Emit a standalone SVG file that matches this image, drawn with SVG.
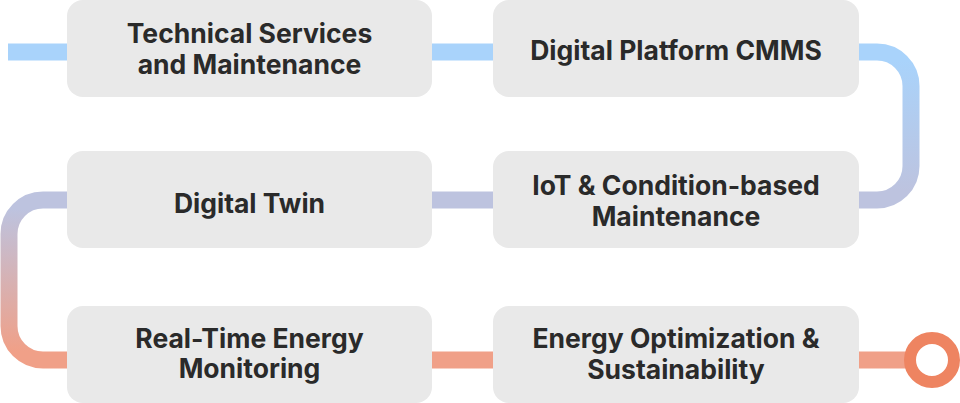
<svg xmlns="http://www.w3.org/2000/svg" width="960" height="403" viewBox="0 0 960 403">
  <style>
    .box { fill: #e9e9e9; }
    .lbl { font-family: Inter, "Noto Sans", "Liberation Sans", sans-serif; font-weight: 700; font-size: 26.5px; fill: #2a2a2a; text-anchor: middle; }
  </style>
  <defs>
    <linearGradient id="flow" gradientUnits="userSpaceOnUse" x1="0" y1="0" x2="0" y2="403">
      <stop offset="0.151" stop-color="#a9d3fb"/>
      <stop offset="0.474" stop-color="#bdc3df"/>
      <stop offset="0.519" stop-color="#bdc3df"/>
      <stop offset="0.871" stop-color="#f0a088"/>
    </linearGradient>
  </defs>
  <g id="connectors">
    <path d="M8,52 H877 A34,34 0 0 1 911,86 V166 A34,34 0 0 1 877,200 H43 A34,34 0 0 0 9,234 V326 A34,34 0 0 0 43,360 H912" fill="none" stroke="url(#flow)" stroke-width="17"/>
    <circle cx="932" cy="360" r="22" fill="#ffffff" stroke="#ee8461" stroke-width="12"/>
  </g>
  <g id="n1">
    <rect class="box" x="67" y="0" width="365" height="97" rx="16"/>
    <text class="lbl" x="249.5" y="43">Technical Services</text>
    <text class="lbl" x="249.5" y="74">and Maintenance</text>
  </g>
  <g id="n2">
    <rect class="box" x="493" y="0" width="366" height="97" rx="16"/>
    <text class="lbl" x="676" y="60">Digital Platform CMMS</text>
  </g>
  <g id="n3">
    <rect class="box" x="493" y="151" width="366" height="97" rx="16"/>
    <text class="lbl" x="676" y="195">IoT &amp; Condition-based</text>
    <text class="lbl" x="676" y="226">Maintenance</text>
  </g>
  <g id="n4">
    <rect class="box" x="67" y="151" width="365" height="97" rx="16"/>
    <text class="lbl" x="249.5" y="213">Digital Twin</text>
  </g>
  <g id="n5">
    <rect class="box" x="67" y="306" width="365" height="97" rx="16"/>
    <text class="lbl" x="249.5" y="348">Real-Time Energy</text>
    <text class="lbl" x="249.5" y="378">Monitoring</text>
  </g>
  <g id="n6">
    <rect class="box" x="493" y="306" width="366" height="97" rx="16"/>
    <text class="lbl" x="676" y="348">Energy Optimization &amp;</text>
    <text class="lbl" x="676" y="379">Sustainability</text>
  </g>
</svg>
